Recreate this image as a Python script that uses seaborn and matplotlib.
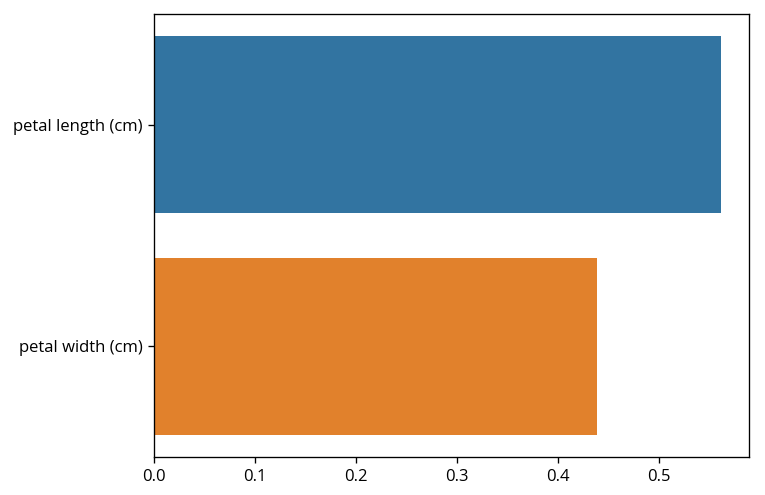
import matplotlib
matplotlib.use("Agg")
import pandas as pd
import seaborn as sns
import matplotlib.pyplot as plt

features = ['petal length (cm)', 'petal width (cm)']
importances = [0.561, 0.439]

plt.rcParams['font.family'] = ['Open Sans', 'Noto Sans CJK KR', 'DejaVu Sans']
plt.rcParams['font.size'] = 10

df = pd.DataFrame({'feature': features, 'importance': importances})

fig = plt.figure(figsize=(765 / 120, 495 / 120), dpi=120)
ax = fig.add_axes([154 / 765, 38 / 495, 595 / 765, 443 / 495])
sns.barplot(data=df, x='importance', y='feature', hue='feature', legend=False, ax=ax)
ax.set_xlabel('')
ax.set_ylabel('')
fig.savefig('out.png', dpi=120)
